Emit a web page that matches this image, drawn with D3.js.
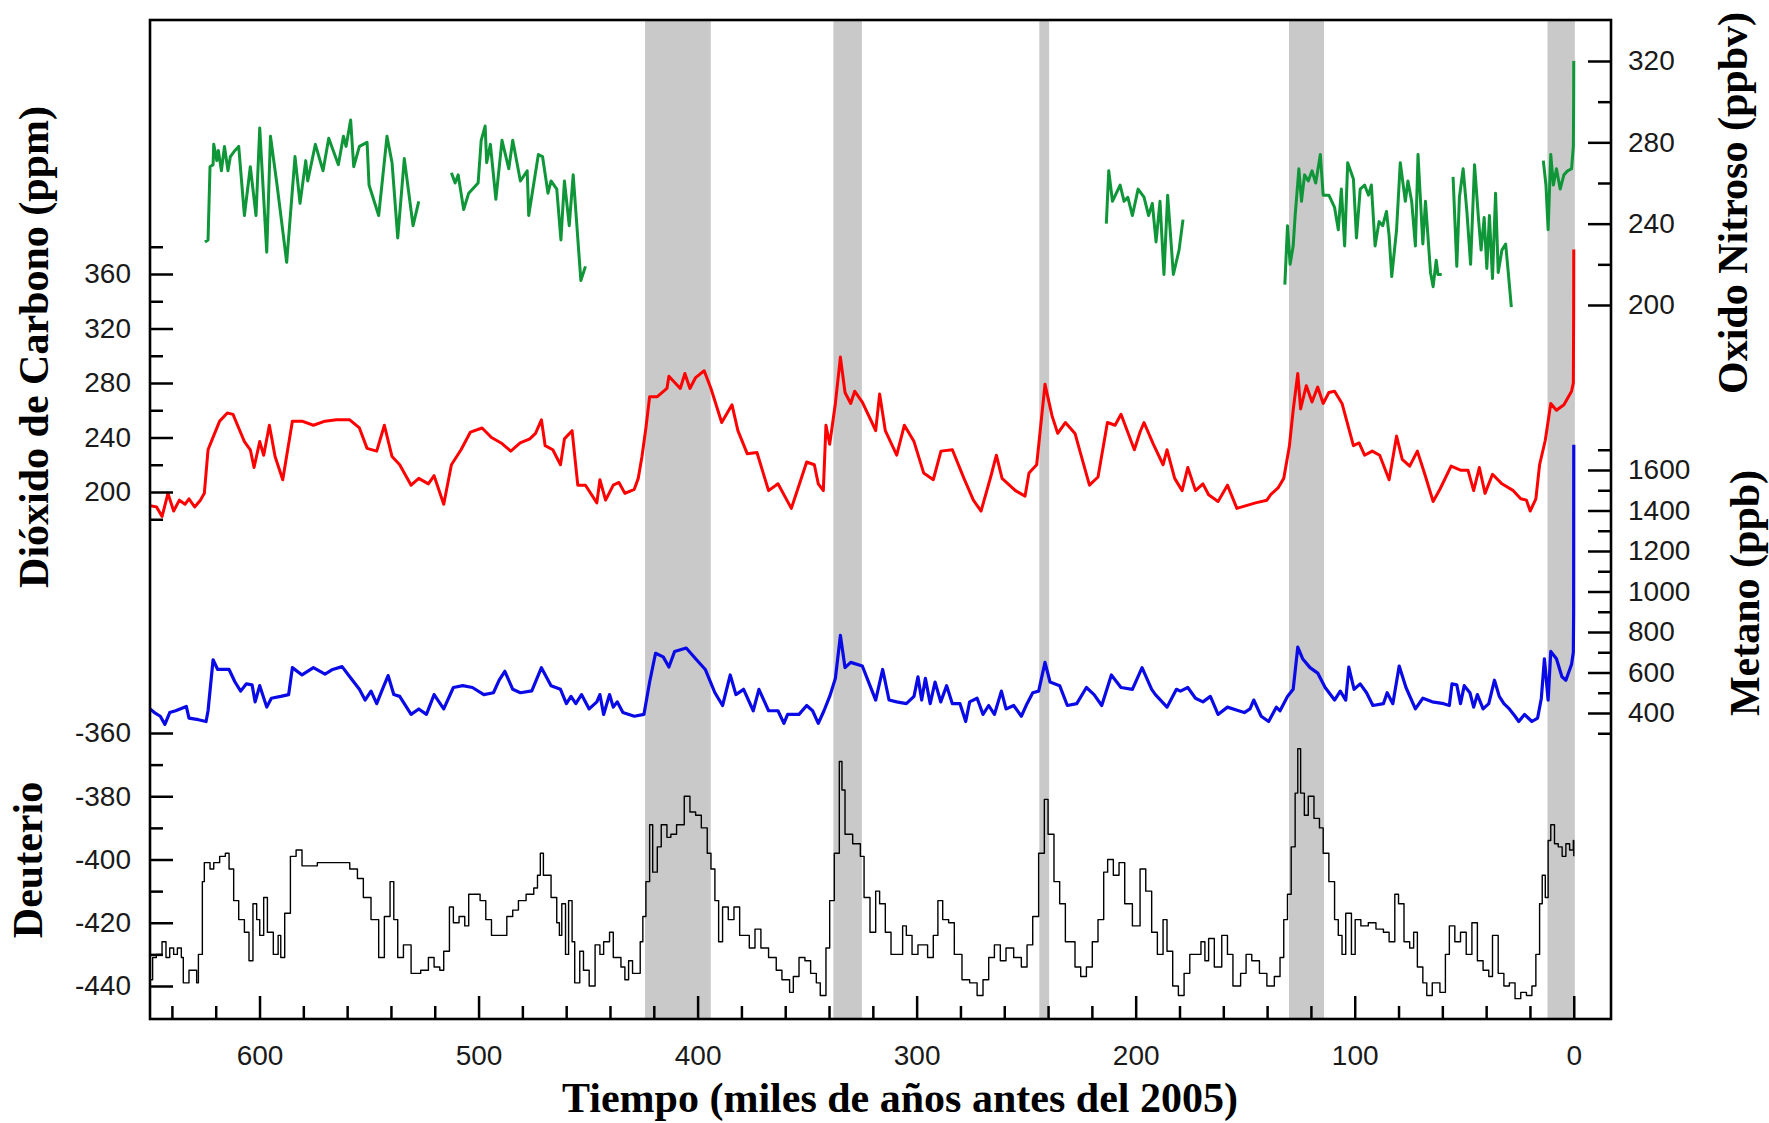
<!DOCTYPE html>
<meta charset="utf-8">
<script src="https://d3js.org/d3.v7.min.js"></script>
<style>
  body { margin: 0; background: #fff; }
</style>
<div id="chart"></div>
<script>
// --- data: [thousand years before 2005, value] ---
var interglacials = [[424, 394], [338, 325], [244, 239.5], [130, 114], [12, -0.5]];

var co2 = [[650,190],[647,189],[644.5,182],[641.8,199],[639.2,186],[636.6,194],[634,191],[632.2,195],[629.6,189],[627,194],[625.2,199],[623.5,231],[621,241],[618.2,252],[614.7,258],[612.1,257],[609.5,247],[606.9,237],[604.2,231],[602.5,218],[599.9,237],[598.1,227],[595.5,249],[592.9,226],[589.4,209],[585,252],[580.6,252],[575.4,249],[570.1,252],[564.9,253],[558.8,253],[554.4,247],[550.9,232],[546.5,230],[543,249],[539.5,226],[536,220],[530.8,205],[527.3,210],[522.9,206],[520.3,212],[515.9,191],[512.4,220],[508,231],[503.7,244],[498.4,247],[494.1,240],[489.7,236],[485.3,230],[481,236],[476.6,239],[474,243],[471.3,253],[469.6,234],[466.1,231],[462.6,220],[460.8,239],[457.3,245],[454.7,205],[451.2,205],[446,192],[444.6,209],[442,194],[438.5,205],[435.9,207],[433.2,199],[428.9,202],[427.1,210],[425.4,226],[423.6,247],[421.9,270],[418.4,270],[414,276],[413.1,285],[407.9,276],[405.8,287],[403.5,276],[400.9,284],[397,289],[393.9,276],[389,251],[384.3,264],[381.6,245],[377.3,228],[372.9,229],[367.6,201],[363.3,206],[357.2,188],[353.7,205],[350.2,222],[346.7,220],[344.9,206],[342.6,201],[341.4,249],[339.7,235],[337.1,265],[334.8,299],[332.7,273],[330.1,265],[328.3,274],[324.8,266],[320.4,251],[318.7,245],[316.9,272],[314.3,245],[309.1,227],[305.6,249],[301.2,237],[296.8,214],[292.4,209],[288.9,230],[283.7,231],[278.4,210],[274.1,194],[270.6,186],[266.2,211],[263.6,227],[261,210],[254.9,201],[250.5,197],[248.7,214],[245.2,220],[241.4,279],[238.2,256],[235.6,243],[232.1,251],[227.7,243],[225.1,228],[221.1,205],[217.2,211],[212.9,251],[209.4,249],[206.7,257],[200.6,231],[198,244],[196.2,251],[191.9,235],[187.5,220],[185.7,231],[182.2,210],[178.8,201],[176.2,218],[172.7,201],[169.3,206],[166.7,198],[162.4,193],[158.1,205],[153.8,188],[145.3,192],[140.1,194],[138.4,198],[135,203],[132.4,210],[129.8,234],[128.1,260],[126,287],[124.7,261],[122.1,278],[119.5,266],[116.9,277],[114.4,265],[111.8,273],[109.2,274],[105.8,265],[100.6,234],[98,236],[95.5,227],[92,230],[88.6,227],[84.3,209],[80.9,241],[78.3,224],[74.9,219],[71.4,230],[68,213],[64.2,193],[61.1,202],[56,219],[51.7,216],[48.3,216],[45.7,201],[43.1,218],[40.5,199],[37.1,213],[32.8,206],[27.6,201],[24.2,195],[21.6,194],[19.9,186],[17.3,195],[15.6,220],[13,238],[10.5,265],[7.9,260],[4.5,264],[1,274],[0.2,280],[0.05,330],[0,378]];

// null value = gap in the record
var n2o = [[624.9,231],[623.5,232],[622.6,268],[621.2,269],[620.9,279],[619.5,271],[618.8,276],[617.4,266],[616,278],[614.4,266],[613.3,273],[611.2,276],[609.5,278],[606.9,244],[604.2,268],[601.6,244],[599.9,287],[596.7,226],[595,283],[592,259],[587.6,221],[583.8,273],[581.5,250],[578.9,271],[578,261],[574.5,279],[571,266],[568.4,282],[564,269],[561.7,283],[560.5,278],[558.4,291],[557,268],[554.4,278],[550.9,280],[550,259],[545.6,244],[541.8,283],[539.5,270],[536.9,233],[533.9,272],[529.9,239],[527.3,251],[520,null],
  [512.4,265],[510.7,260],[509.3,264],[506.8,247],[504.5,255],[500.2,260],[498.8,281],[497,288],[496.3,270],[494.6,279],[492.1,252],[489.3,281],[486.2,267],[484.4,281],[480.9,261],[477.8,266],[477.1,244],[472.7,274],[470.8,273],[468.3,255],[466.9,261],[464.3,257],[462.4,232],[460.8,261],[458.6,239],[456.8,264],[453.3,212],[451.2,219],[300,null],
  [213.4,240],[212.3,266],[210.6,251],[207.1,259],[205.3,251],[203.6,253],[201.5,244],[198.9,257],[196.2,253],[194.1,244],[192.4,250],[190.7,231],[188.9,251],[187.1,215],[185.4,254],[182.8,215],[180.2,227],[178.4,242],[150,null],
  [131.9,210],[130.7,239],[129.5,220],[128.1,229],[127.2,244],[125.5,267],[124.3,251],[122.9,264],[121.2,261],[119.5,266],[117.8,260],[115.7,274],[114.4,254],[111.8,254],[109.2,248],[107.5,237],[106.1,257],[104.6,229],[103.2,270],[100.6,262],[99.2,233],[97.5,257],[95.5,259],[93.7,254],[92.4,259],[90.7,229],[88.9,241],[87.2,239],[85.5,246],[84.3,234],[83.1,214],[80.9,237],[79.2,270],[76.9,251],[75.7,261],[74,251],[72.3,229],[71.1,274],[68.9,230],[67.7,251],[65.4,216],[64.2,209],[62.8,222],[62,215],[60.3,215],[58,null],
  [55.1,263],[53.4,219],[52.2,253],[50.5,267],[48.8,246],[47.1,220],[45.3,269],[43.6,244],[42.3,227],[40.9,243],[39.7,218],[38.5,244],[37.1,213],[35.7,255],[34.5,216],[32.8,227],[31.1,230],[29.9,216],[28.5,199],[20,null],
  [13.9,271],[12.7,259],[11.7,237],[10.5,274],[9.3,259],[7.9,267],[6.2,257],[4.5,264],[2.8,266],[1,267],[0.2,278],[0.05,300],[0,320]];

var ch4 = [[650,420],[648,402],[645.3,384],[643.2,344],[641,402],[638.3,411],[633.4,432],[632.2,375],[627.9,367],[624.4,358],[623.5,411],[621.2,663],[619.1,615],[613.9,615],[611.2,553],[608.6,508],[606,544],[603.4,539],[602,455],[599.9,535],[596.7,429],[594.6,473],[590.3,482],[586.7,491],[585,624],[580.6,588],[575.4,624],[570.1,592],[566.6,615],[562.3,629],[558.8,579],[554.4,517],[551.8,464],[549.1,508],[546.5,446],[543.9,517],[541.3,585],[538.7,491],[536,482],[530.8,393],[527.3,420],[523.8,393],[520.3,491],[515.9,420],[511.5,526],[507.2,535],[502.8,526],[497.6,491],[493.2,500],[490.6,562],[488,606],[484.4,517],[480.9,500],[475.7,509],[471.3,624],[466.9,535],[462.6,517],[459.9,446],[457.8,482],[455.6,446],[453,491],[449.5,420],[446,455],[444.6,491],[442.9,393],[440.2,491],[438.5,429],[436.7,455],[434.1,402],[428.9,384],[424.5,393],[421.9,553],[419.2,695],[415.7,677],[413.1,627],[410.5,704],[405.2,721],[400.9,668],[396.5,615],[392.1,500],[388.6,437],[385.1,588],[382.5,491],[379,517],[374.6,411],[372,517],[367.6,411],[363.3,411],[360.6,349],[358.9,393],[353.7,393],[350.2,437],[347.5,411],[344.9,349],[342.3,411],[339.7,482],[337.1,571],[334.8,783],[332.7,624],[330.1,650],[324.8,632],[321.3,535],[318.7,464],[315.5,615],[312.6,464],[309.1,455],[304.7,446],[301.2,482],[299.4,579],[297.7,464],[296,571],[293.8,446],[291.6,553],[289,455],[286.3,535],[283.7,446],[280.2,446],[277.6,358],[275.8,455],[272.4,473],[269.7,393],[267.1,437],[264.5,393],[261.3,508],[259.2,420],[255.7,437],[252.2,384],[249.6,446],[247,500],[244.3,508],[241.4,650],[239.1,553],[234.7,535],[231.2,437],[226.9,446],[222.5,526],[219,491],[215.5,437],[211.1,588],[206.7,526],[201.5,517],[197.1,624],[192.7,517],[191,491],[185.7,429],[181.4,517],[179.6,508],[176.2,526],[172.7,473],[169.3,455],[165.9,482],[162.4,393],[158.1,429],[153,411],[150.4,402],[147.8,420],[146.1,464],[142.7,384],[139.3,358],[135.8,429],[134.1,411],[130.7,482],[128.1,517],[126,725],[123.8,668],[120.4,624],[116.9,597],[113.5,526],[109.2,464],[106.6,508],[104.1,464],[102.7,627],[100.3,517],[97.5,544],[94.6,500],[91.7,437],[86.9,446],[85.2,500],[82.6,446],[79.7,632],[76.6,526],[72.3,420],[68.9,473],[64.6,455],[59.4,446],[56.8,437],[55.6,544],[53.4,539],[51.7,446],[50,535],[47.4,500],[45.7,429],[44,491],[41.4,420],[38.8,446],[36.2,562],[34,482],[31.9,446],[29.4,420],[26.8,384],[25.1,358],[22.5,393],[19.1,358],[16.5,375],[14.8,473],[13.4,668],[11.7,464],[10.5,704],[7.9,668],[5.4,579],[3.6,562],[1,641],[0.2,700],[0.05,900],[0,1725]];

var deuterium = [[650,-438],[648.8,-431],[647.1,-430],[644.5,-426],[642.7,-431],[641,-428],[639.2,-430],[637.5,-428],[635.7,-431],[634.8,-439],[632.2,-435],[628.7,-439],[627.9,-430],[626.1,-407],[625.2,-401],[622.6,-403],[620.9,-401],[618.2,-399],[615.6,-398],[613.9,-403],[611.8,-413],[609.5,-419],[606.9,-423],[604.8,-432],[603,-414],[601.3,-419],[599.9,-424],[598.1,-412],[596.4,-423],[593.7,-430],[591.5,-424],[590.3,-431],[588.5,-417],[585.9,-399],[583.3,-397],[580.6,-402],[577.1,-402],[573.6,-401],[568.4,-401],[563.1,-401],[558.8,-403],[555.3,-406],[552.6,-412],[549.1,-419],[545.6,-431],[543,-418],[540.4,-407],[538.7,-419],[536.9,-431],[534.3,-427],[530.8,-436],[526.4,-435],[522.9,-431],[520.3,-434],[517.7,-435],[515.9,-429],[513.3,-415],[511.5,-420],[508.9,-418],[506.3,-421],[504.5,-411],[501.9,-411],[499.3,-413],[496.7,-419],[494.1,-424],[490.6,-424],[487.1,-418],[484.4,-416],[481.8,-413],[478.3,-411],[474.8,-409],[473.1,-405],[471.8,-398],[470.4,-405],[466.9,-412],[464.3,-420],[463.1,-424],[462,-414],[460.3,-430],[458.9,-413],[457.3,-426],[456.1,-439],[453.8,-429],[452.1,-435],[449.5,-440],[446.8,-427],[444.6,-430],[442.9,-426],[440.2,-423],[438.5,-431],[435,-434],[433.2,-438],[431.5,-432],[429.7,-436],[428,-436],[426.2,-426],[425,-418],[423.6,-407],[421.9,-389],[420.5,-404],[418.4,-396],[416.6,-389],[414,-393],[412.2,-392],[409.6,-389],[406.1,-380],[403.5,-385],[400.9,-386],[398.3,-390],[395.6,-398],[393.9,-403],[392.1,-413],[390.4,-426],[388.6,-415],[386,-419],[383.4,-415],[380.8,-424],[376.4,-428],[373.8,-422],[371.1,-428],[367.6,-431],[364.1,-435],[361.5,-438],[358,-442],[356.3,-437],[353.7,-431],[351,-432],[348.4,-436],[345.8,-439],[344,-443],[341.4,-428],[339.7,-413],[337.6,-398],[335.3,-369],[334.1,-378],[332.7,-392],[329.2,-395],[325.7,-399],[324,-412],[321.3,-423],[318.7,-410],[316.9,-414],[314.3,-423],[311.7,-430],[309.1,-430],[306.4,-421],[304.7,-424],[302.1,-430],[299.4,-427],[295,-431],[292.4,-424],[290.3,-413],[288.1,-419],[285.4,-420],[282.8,-430],[279.3,-438],[275.8,-439],[272.4,-443],[269.7,-438],[267.1,-431],[264.5,-427],[261.8,-432],[259.2,-428],[255.7,-431],[252.2,-434],[249.6,-427],[247,-418],[244.3,-398],[241.7,-381],[240,-392],[237.3,-407],[234.7,-414],[232.1,-426],[227.7,-434],[225.1,-437],[222.5,-434],[219.8,-426],[217.2,-419],[214.6,-404],[212.8,-400],[210.2,-405],[207.6,-401],[205,-414],[201.5,-421],[198,-403],[195.4,-410],[192.7,-423],[190.1,-430],[187.5,-419],[185.7,-429],[183.1,-440],[180.5,-443],[177.9,-436],[175.3,-430],[172.7,-430],[170.2,-426],[168.4,-432],[166.7,-425],[164.1,-434],[160.7,-424],[158.1,-430],[155.6,-440],[152.1,-436],[149.6,-430],[147,-432],[143.5,-436],[140.1,-440],[136.7,-437],[134.1,-431],[132.4,-419],[130.7,-411],[129,-396],[127.2,-379],[126,-365],[124.7,-379],[123,-386],[121.2,-380],[118.6,-387],[116.1,-390],[114.4,-398],[111.8,-407],[109.2,-419],[107.5,-424],[105.8,-430],[104.1,-417],[101.5,-430],[99.8,-419],[97.2,-421],[93.8,-420],[90.3,-422],[86.9,-423],[84.3,-426],[81.7,-411],[80,-414],[77.5,-426],[74.9,-428],[73.1,-423],[71.4,-434],[68.9,-439],[67.1,-443],[64.6,-439],[61.1,-442],[58.6,-430],[56.8,-421],[54.3,-426],[51.7,-423],[49.1,-430],[46.5,-420],[44,-432],[41.4,-435],[38.8,-437],[37.1,-424],[34.5,-436],[31.9,-440],[29.4,-439],[26.8,-444],[24.2,-442],[21.6,-443],[19.1,-440],[17.3,-430],[15.6,-414],[14.4,-405],[13,-412],[11.7,-394],[10.5,-389],[8.8,-395],[7.1,-396],[5.3,-399],[3.6,-395],[1.9,-397],[0.2,-394],[0,-399]];

// tick values
var timeMajor = [600, 500, 400, 300, 200, 100, 0];
var timeMinor = [640, 620, 580, 560, 540, 520, 480, 460, 440, 420, 380, 360, 340, 320, 280, 260, 240, 220, 180, 160, 140, 120, 80, 60, 40, 20];
var co2Major = [200, 240, 280, 320, 360];
var co2Minor = [180, 220, 260, 300, 340, 380];
var ddMajor = [-440, -420, -400, -380, -360];
var ddMinor = [-430, -410, -390, -370];
var n2oMajor = [200, 240, 280, 320];
var n2oMinor = [220, 260, 300];
var ch4Major = [400, 600, 800, 1000, 1200, 1400, 1600];
var ch4Minor = [300, 500, 700, 900, 1100, 1300, 1500, 1700];

// --- layout ---
var width = 1769, height = 1123;
var frame = {left: 150, right: 1611, top: 20, bottom: 1019};

var svg = d3.select("#chart").append("svg")
    .attr("width", width)
    .attr("height", height)
    .style("background", "#fff");

var x = d3.scaleLinear().domain([650, -17]).range([frame.left, frame.right]);
var yCO2 = d3.scaleLinear().domain([200, 360]).range([492, 274]);
var yN2O = d3.scaleLinear().domain([200, 320]).range([305, 61]);
var yCH4 = d3.scaleLinear().domain([400, 1600]).range([713, 470]);
var yDD = d3.scaleLinear().domain([-440, -360]).range([986, 733]);

// grey interglacial bands
svg.append("g").selectAll("rect")
  .data(interglacials)
  .enter().append("rect")
    .attr("x", function(d) { return x(d[0]); })
    .attr("width", function(d) { return x(d[1]) - x(d[0]); })
    .attr("y", frame.top)
    .attr("height", frame.bottom - frame.top)
    .attr("fill", "#c9c9c9");

function drawSeries(data, y, color, w, curve) {
  var line = d3.line()
    .defined(function(d) { return d[1] !== null; })
    .x(function(d) { return x(d[0]); })
    .y(function(d) { return y(d[1]); })
    .curve(curve || d3.curveLinear);
  svg.append("path")
    .datum(data)
    .attr("d", line)
    .attr("fill", "none")
    .attr("stroke", color)
    .attr("stroke-width", w)
    .attr("stroke-linejoin", "round");
}

drawSeries(n2o, yN2O, "#0f9638", 3);
drawSeries(co2, yCO2, "#ff0000", 3);
drawSeries(ch4, yCH4, "#0a0ae6", 3.2);
drawSeries(deuterium, yDD, "#000", 1.4, d3.curveStepAfter);

// axes (ticks point inwards)
function styleAxis(g) {
  g.select(".domain").remove();
  g.selectAll(".tick line").attr("stroke", "#000").attr("stroke-width", 2.5);
  g.selectAll(".tick text")
    .attr("font-family", "'Liberation Sans', Arial, sans-serif")
    .attr("font-size", 28)
    .attr("fill", "#1a1a1a");
}
var fmt = function(d) { return String(d); };

function addAxis(axis, tx, ty) {
  svg.append("g")
    .attr("transform", "translate(" + tx + "," + ty + ")")
    .call(axis)
    .call(styleAxis);
}

addAxis(d3.axisBottom(x).tickValues(timeMinor).tickSize(-13).tickFormat(""), 0, frame.bottom);
addAxis(d3.axisBottom(x).tickValues(timeMajor).tickSize(-23).tickPadding(26).tickFormat(fmt), 0, frame.bottom);

addAxis(d3.axisLeft(yCO2).tickValues(co2Minor).tickSize(-13).tickFormat(""), frame.left, 0);
addAxis(d3.axisLeft(yCO2).tickValues(co2Major).tickSize(-23).tickPadding(19).tickFormat(fmt), frame.left, 0);
addAxis(d3.axisLeft(yDD).tickValues(ddMinor).tickSize(-13).tickFormat(""), frame.left, 0);
addAxis(d3.axisLeft(yDD).tickValues(ddMajor).tickSize(-23).tickPadding(19).tickFormat(fmt), frame.left, 0);

addAxis(d3.axisRight(yN2O).tickValues(n2oMinor).tickSize(-13).tickFormat(""), frame.right, 0);
addAxis(d3.axisRight(yN2O).tickValues(n2oMajor).tickSize(-23).tickPadding(17).tickFormat(fmt), frame.right, 0);
addAxis(d3.axisRight(yCH4).tickValues(ch4Minor).tickSize(-13).tickFormat(""), frame.right, 0);
addAxis(d3.axisRight(yCH4).tickValues(ch4Major).tickSize(-23).tickPadding(17).tickFormat(fmt), frame.right, 0);

// plot frame
svg.append("rect")
  .attr("x", frame.left)
  .attr("y", frame.top)
  .attr("width", frame.right - frame.left)
  .attr("height", frame.bottom - frame.top)
  .attr("fill", "none")
  .attr("stroke", "#000")
  .attr("stroke-width", 2.6);

// titles
function title(text, tx, ty, rotate) {
  svg.append("text")
    .attr("transform", "translate(" + tx + "," + ty + ")" + (rotate ? " rotate(-90)" : ""))
    .attr("text-anchor", "middle")
    .attr("font-family", "'Liberation Serif', 'Times New Roman', serif")
    .attr("font-weight", "bold")
    .attr("font-size", 42)
    .attr("fill", "#000")
    .text(text);
}
title("Tiempo (miles de años antes del 2005)", 900, 1112, false);
title("Dióxido de Carbono (ppm)", 48, 347, true);
title("Deuterio", 42, 860, true);
title("Oxido Nitroso (ppbv)", 1747, 203, true);
title("Metano (ppb)", 1759, 593, true);
</script>
